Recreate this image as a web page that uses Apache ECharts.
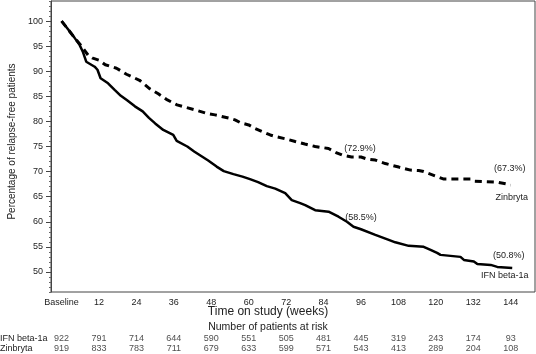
<!DOCTYPE html>
<html><head><meta charset="utf-8">
<script src="https://cdn.jsdelivr.net/npm/echarts@6/dist/echarts.min.js"></script>
<style>html,body{margin:0;padding:0;background:#fff}#c{width:536px;height:354px}</style>
</head><body><div id="c"></div>
<script>
const weekTicks = [0,12,24,36,48,60,72,84,96,108,120,132,144];
const yTicks = [50,55,60,65,70,75,80,85,90,95,100];

const ifnWeeks  = [0,2,4,5.8,6.8,7.9,10.6,11.5,12.5,14.9,17,19,21,23.5,26,28,30,32.6,35.8,36.9,40.3,42.5,45,47,49.7,52,55.1,58,60.4,63,65.8,68.5,71.7,73.8,76.5,78.1,81.3,85.6,88.8,91.5,93.6,96,100.6,104.9,107,111.3,116.1,118.3,120.4,121.5,124.7,127.9,129,132.2,133.3,137.6,139.7,144.5];
const ifnValues = [100,98.4,96.8,95.2,93.9,91.9,90.9,90.3,88.6,87.6,86.3,85.1,84.2,83,82,80.7,79.6,78.3,77.3,76.1,75,74,73,72.2,71,70.1,69.5,69,68.5,67.9,67.1,66.6,65.7,64.3,63.7,63.3,62.3,62,61,60,59,58.5,57.4,56.4,55.9,55.2,55,54.4,53.8,53.4,53.2,53,52.4,52.1,51.6,51.4,51,50.8];

const zinWeeks  = [0,2,4,6,8.5,10,12,14,17.6,20.8,25,28.3,31,33.6,37,42.8,46.5,49.2,54,55.6,57.5,60,62,64.2,66.9,68.5,72,74.9,78,81.3,85.6,88,89.9,93,96,98,100.6,103.8,108.1,111.9,114.5,116.1,120.4,122.6,131.1,132.2,139.7,142.9,144];
const zinValues = [100,98.4,96.8,95.3,93.2,92.6,92.2,91.3,90.6,89.4,88.2,86.5,85.5,84.4,83.3,82.3,81.6,81.3,80.6,80.3,79.7,79.3,78.6,78,77.3,77,76.5,76,75.5,75,74.6,73.8,73.3,72.9,72.9,72.5,72.3,71.6,70.9,70.3,70.2,70,69,68.5,68.5,68.1,67.9,67.5,67.3];

const riskGroups = ['IFN beta-1a','Zinbryta'];
const riskIFN = [922,791,714,644,590,551,505,481,445,319,243,174,93];
const riskZin = [919,833,783,711,679,633,599,571,543,413,289,204,108];

const zinNotes = [[96,72.9,'(72.9%)',[-1,-9]],[144,67.3,'(67.3%)',[-1,-17]],[144,67.3,'Zinbryta',[1,12]]];
const ifnNotes = [[96,58.5,'(58.5%)',[0,-12]],[144,50.8,'(50.8%)',[-2,-12]],[144,50.8,'IFN beta-1a',[-6,8]]];

const FONT = '"Liberation Sans", Arial, sans-serif';
const TXT = '#222';

function zip(a,b){return a.map((x,i)=>[x,b[i]]);}
function notes(arr){
  return arr.map(n=>({coord:[n[0],n[1]], symbol:'circle', symbolSize:0,
    label:{show:true, position:'inside', offset:n[3], formatter:n[2], color:TXT, fontSize:9, fontFamily:FONT}}));
}
const riskData = [];
riskIFN.forEach((v,i)=>riskData.push([weekTicks[i], riskGroups[0], v]));
riskZin.forEach((v,i)=>riskData.push([weekTicks[i], riskGroups[1], v]));

const chart = echarts.init(document.getElementById('c'), null, {renderer:'canvas'});
chart.setOption({
  animation:false,
  backgroundColor:'#fff',
  textStyle:{fontFamily:FONT},
  title:[
    {text:'Time on study (weeks)', left:'center', top:306, padding:0,
     textStyle:{fontSize:12, fontWeight:'normal', color:TXT, fontFamily:FONT, lineHeight:12}},
    {text:'Number of patients at risk', left:'center', top:322, padding:0,
     textStyle:{fontSize:10.5, fontWeight:'normal', color:TXT, fontFamily:FONT, lineHeight:11}}
  ],
  grid:[
    {left:51, right:1, top:1, bottom:62, show:true, borderColor:'#444', borderWidth:1, containLabel:false, outerBoundsMode:'none'},
    {left:51, right:1, top:334, height:20, show:false, containLabel:false, outerBoundsMode:'none'}
  ],
  xAxis:[
    {gridIndex:0, type:'value', min:-3.4, max:151.8,
     axisLine:{show:false, onZero:false}, axisTick:{show:false}, splitLine:{show:false},
     axisLabel:{customValues:weekTicks, formatter:v=>v===0?'Baseline':String(v), fontSize:9, color:TXT, margin:6, fontFamily:FONT}},
    {gridIndex:1, type:'value', min:-3.4, max:151.8, show:false, axisLine:{onZero:false}}
  ],
  yAxis:[
    {gridIndex:0, type:'value', min:46, max:104, interval:1,
     axisLine:{show:true, onZero:false, lineStyle:{color:'#444', width:1}},
     axisTick:{show:true, length:2, lineStyle:{color:'#666'}},
     axisLabel:{show:false}, splitLine:{show:false}},
    {gridIndex:0, type:'value', min:46, max:104, position:'left',
     axisLine:{show:false, onZero:false}, splitLine:{show:false},
     axisTick:{show:true, customValues:yTicks, length:5, lineStyle:{color:'#444'}},
     axisLabel:{customValues:yTicks, fontSize:9, color:TXT, margin:8, fontFamily:FONT},
     name:'Percentage of relapse-free patients', nameLocation:'middle', nameGap:33, nameRotate:90,
     nameTextStyle:{fontSize:10, color:TXT, fontFamily:FONT, padding:[0,0,0,10]}},
    {gridIndex:1, type:'category', data:riskGroups, inverse:true,
     axisLine:{show:false, onZero:false}, axisTick:{show:false}, splitLine:{show:false},
     axisLabel:{interval:0, align:'left', margin:51, fontSize:9, color:TXT, fontFamily:FONT, hideOverlap:false}}
  ],
  series:[
    {type:'line', name:'IFN beta-1a', xAxisIndex:0, yAxisIndex:0, data:zip(ifnWeeks,ifnValues),
     showSymbol:false, lineStyle:{color:'#000', width:2.5}, itemStyle:{color:'#000'},
     markPoint:{data:notes(ifnNotes), silent:true}},
    {type:'line', name:'Zinbryta', xAxisIndex:0, yAxisIndex:0, data:zip(zinWeeks,zinValues),
     showSymbol:false, lineStyle:{color:'#000', width:3, type:[7,5]}, itemStyle:{color:'#000'},
     markPoint:{data:notes(zinNotes), silent:true}},
    {type:'scatter', xAxisIndex:1, yAxisIndex:2, data:riskData, symbolSize:1,
     itemStyle:{color:'rgba(0,0,0,0)'},
     label:{show:true, position:'inside', formatter:p=>String(p.value[2]), color:TXT, fontSize:9, fontFamily:FONT}}
  ]
});
</script></body></html>
